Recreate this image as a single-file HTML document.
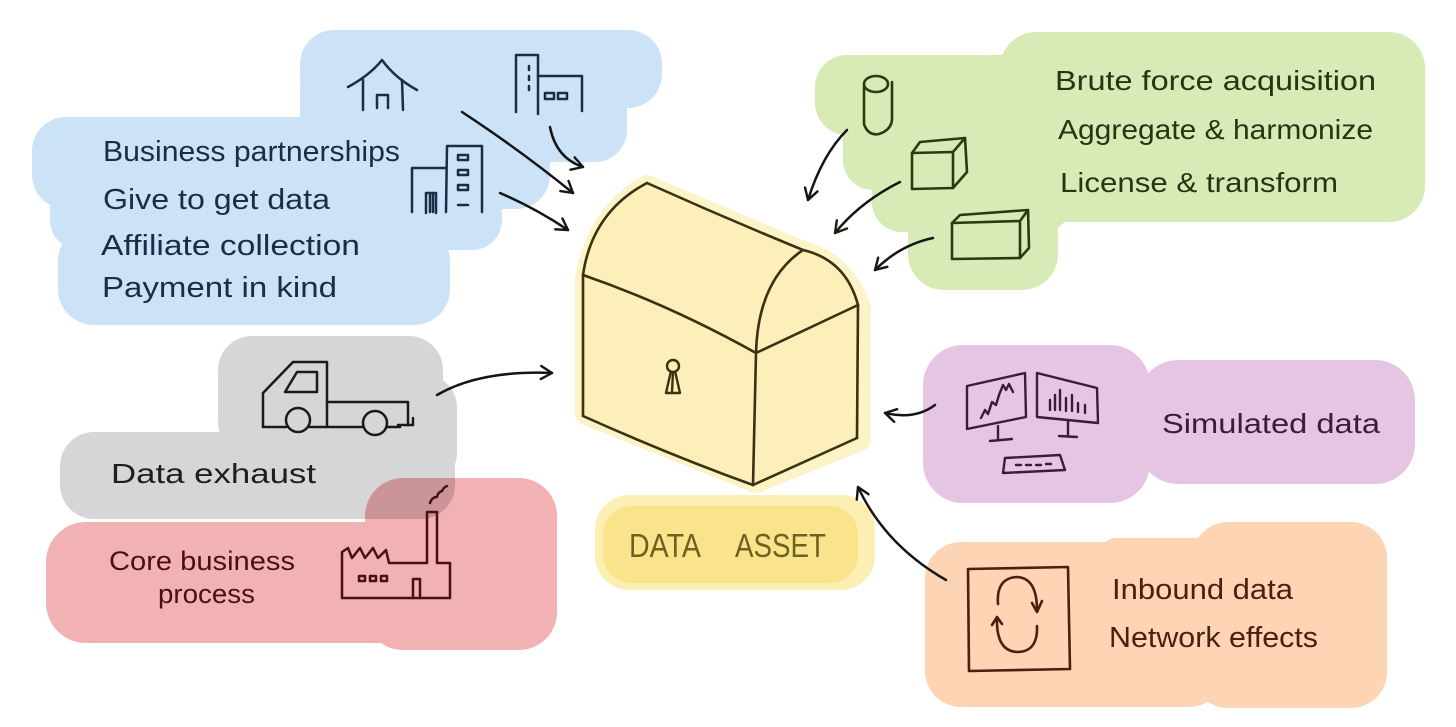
<!DOCTYPE html>
<html>
<head>
<meta charset="utf-8">
<style>
  html,body{margin:0;padding:0;background:#fff;}
  svg{display:block;}
  text{font-family:"Liberation Sans", "DejaVu Sans", sans-serif;}
</style>
</head>
<body>
<svg width="1456" height="727" viewBox="0 0 1456 727" xmlns="http://www.w3.org/2000/svg">
  <defs>
    <marker id="ah" viewBox="0 0 16 16" refX="13" refY="8" markerWidth="16" markerHeight="16" orient="auto" markerUnits="userSpaceOnUse">
      <path d="M2,1.5 L13,8 L2,14.5" fill="none" stroke="#151515" stroke-width="2.4" stroke-linecap="round" stroke-linejoin="round"/>
    </marker>
    <marker id="ahg" viewBox="0 0 16 16" refX="13" refY="8" markerWidth="16" markerHeight="16" orient="auto" markerUnits="userSpaceOnUse">
      <path d="M2,1.5 L13,8 L2,14.5" fill="none" stroke="#1a1f10" stroke-width="2.4" stroke-linecap="round" stroke-linejoin="round"/>
    </marker>
  </defs>
  <rect width="1456" height="727" fill="#ffffff"/>

  <!-- BLUE blob -->
  <g fill="#cbe2f7">
    <rect x="300" y="30" width="362" height="78" rx="34"/>
    <rect x="300" y="55" width="327" height="107" rx="32"/>
    <rect x="32" y="117" width="518" height="92" rx="34"/>
    <rect x="50" y="180" width="452" height="70" rx="30"/>
    <rect x="58" y="225" width="392" height="100" rx="36"/>
  </g>

  <!-- GREEN blob -->
  <g fill="#d8eab6">
    <rect x="1000" y="32" width="425" height="190" rx="36"/>
    <rect x="815" y="55" width="260" height="80" rx="32"/>
    <rect x="843" y="90" width="230" height="100" rx="30"/>
    <rect x="872" y="150" width="200" height="82" rx="30"/>
    <rect x="908" y="195" width="150" height="95" rx="36"/>
  </g>

  <!-- GRAY blob -->
  <g fill="#d6d6d6">
    <rect x="218" y="336" width="225" height="120" rx="34"/>
    <rect x="300" y="375" width="157" height="110" rx="32"/>
    <rect x="60" y="432" width="395" height="87" rx="34"/>
  </g>

  <!-- PINK blob -->
  <g fill="#f2b2b4" style="mix-blend-mode:multiply">
    <rect x="46" y="522" width="420" height="121" rx="40"/>
    <rect x="365" y="478" width="192" height="172" rx="38"/>
  </g>

  <!-- PURPLE blob -->
  <g fill="#e6c5e2">
    <rect x="923" y="345" width="227" height="158" rx="40"/>
    <rect x="1138" y="360" width="277" height="124" rx="40"/>
  </g>

  <!-- ORANGE blob -->
  <g fill="#fdd4b4">
    <rect x="925" y="542" width="300" height="165" rx="36"/>
    <rect x="1192" y="522" width="195" height="186" rx="36"/>
    <rect x="1100" y="538" width="150" height="40" rx="16"/>
  </g>

  <!-- CHEST halo -->
  <path d="M647,186 L803,252 Q845,264 860,308 L860,440 L756,482 L586,414 L586,278 Q598,214 647,186 Z"
        fill="#fdf3c8" stroke="#fdf3c8" stroke-width="22" stroke-linejoin="round"/>
  <!-- CHEST fill -->
  <path d="M647,183 L803,250 Q845,262 858,305 L857,438 L753,485 L583,416 L583,275 Q595,210 647,183 Z"
        fill="#fcefb9"/>
  <!-- CHEST lines -->
  <g fill="none" stroke="#3a3210" stroke-width="2.6" stroke-linecap="round" stroke-linejoin="round">
    <path d="M583,275 Q592,212 647,183"/>
    <path d="M647,183 Q725,218 803,250"/>
    <path d="M583,275 Q670,305 756,353"/>
    <path d="M756,353 Q758,280 803,250"/>
    <path d="M803,250 Q846,260 858,305"/>
    <path d="M858,305 L756,353"/>
    <path d="M583,275 L583,416"/>
    <path d="M583,416 Q670,455 753,485"/>
    <path d="M756,353 L753,485"/>
    <path d="M858,305 L857,438"/>
    <path d="M857,438 L753,485"/>
  </g>
  <!-- keyhole -->
  <g fill="none" stroke="#3a3210" stroke-width="2.4" stroke-linejoin="round">
    <circle cx="673" cy="366" r="6"/>
    <path d="M671,371 L666,393 L680,393 L675,371"/>
    <path d="M673,372 L672,392"/>
  </g>

  <!-- DATA ASSET -->
  <rect x="595" y="495" width="280" height="95" rx="34" fill="#fcefb3"/>
  <rect x="603" y="506" width="255" height="77" rx="28" fill="#f9e48c"/>
  <text x="629" y="557" font-size="33" fill="#6e6220" textLength="72" lengthAdjust="spacingAndGlyphs">DATA</text>
  <text x="735" y="557" font-size="33" fill="#6e6220" textLength="91" lengthAdjust="spacingAndGlyphs">ASSET</text>

  <!-- BLUE text -->
  <g fill="#1a2d48" font-size="29">
    <text x="103" y="161" textLength="297" lengthAdjust="spacingAndGlyphs">Business partnerships</text>
    <text x="103" y="209" textLength="227" lengthAdjust="spacingAndGlyphs">Give to get data</text>
    <text x="101" y="255" textLength="259" lengthAdjust="spacingAndGlyphs">Affiliate collection</text>
    <text x="102" y="297" textLength="235" lengthAdjust="spacingAndGlyphs">Payment in kind</text>
  </g>
  <!-- BLUE icons -->
  <g fill="none" stroke="#1a2d48" stroke-width="2.5" stroke-linecap="round" stroke-linejoin="round">
    <path d="M348,87 Q370,75 382,60 Q395,78 417,90"/>
    <path d="M363,80 L363,110 M402,80 L403,110"/>
    <path d="M377,108 L377,95 L388,95 L388,108"/>
    <path d="M516,112 L516,55 L538,55 L538,114"/>
    <path d="M538,76 L582,76 L582,111"/>
    <path d="M529,66 v4 M529,76 v4 M529,86 v4"/>
    <rect x="545" y="93" width="9" height="6"/>
    <rect x="558" y="93" width="9" height="6"/>
    <path d="M412,212 L412,168 L446,168"/>
    <path d="M446,212 L447,146 L482,146 L482,212"/>
    <rect x="458" y="155" width="10" height="5"/>
    <rect x="458" y="170" width="10" height="5"/>
    <rect x="458" y="185" width="10" height="5"/>
    <path d="M458,205 L468,205"/>
    <path d="M426,213 L426,193 L436,193 L436,213 M430,195 L430,212 M433,195 L433,212"/>
  </g>
  <!-- BLUE arrows -->
  <g fill="none" stroke="#151515" stroke-width="2.5" stroke-linecap="round">
    <path d="M462,112 Q520,150 573,193" marker-end="url(#ah)"/>
    <path d="M550,127 Q556,158 583,167" marker-end="url(#ah)"/>
    <path d="M500,193 Q535,208 568,230" marker-end="url(#ah)"/>
  </g>

  <!-- GREEN text -->
  <g fill="#263512" font-size="28">
    <text x="1055" y="90" textLength="321" lengthAdjust="spacingAndGlyphs">Brute force acquisition</text>
    <text x="1058" y="139" textLength="315" lengthAdjust="spacingAndGlyphs">Aggregate &amp; harmonize</text>
    <text x="1060" y="192" textLength="278" lengthAdjust="spacingAndGlyphs">License &amp; transform</text>
  </g>
  <!-- GREEN icons -->
  <g fill="none" stroke="#2a3a10" stroke-width="2.6" stroke-linecap="round" stroke-linejoin="round">
    <ellipse cx="876" cy="84" rx="12" ry="8"/>
    <path d="M864,86 L864,124 Q868,136 879,134 Q891,130 892,120 L892,82"/>
    <path d="M912,153 L953,152 L953,188 L912,189 Z"/>
    <path d="M912,153 L920,142 L965,138 L953,152"/>
    <path d="M965,138 L967,172 L953,188"/>
    <path d="M952,223 L1020,221 L1020,258 L952,259 Z"/>
    <path d="M952,223 L960,215 L1028,210 L1020,221"/>
    <path d="M1028,210 L1029,248 L1020,258"/>
  </g>
  <!-- GREEN arrows -->
  <g fill="none" stroke="#151515" stroke-width="2.5" stroke-linecap="round">
    <path d="M847,130 Q822,155 808,200" marker-end="url(#ah)"/>
    <path d="M900,182 Q860,202 835,233" marker-end="url(#ahg)"/>
    <path d="M933,238 Q900,245 875,270" marker-end="url(#ah)"/>
  </g>

  <!-- GRAY text + truck -->
  <text x="111" y="483" font-size="28" fill="#1e1e1e" textLength="205" lengthAdjust="spacingAndGlyphs">Data exhaust</text>
  <g fill="none" stroke="#1a1a1a" stroke-width="2.5" stroke-linecap="round" stroke-linejoin="round">
    <path d="M263,427 L263,393 L293,362 L327,362 L327,427"/>
    <path d="M285,392 L317,392 L317,372 L297,372 Z"/>
    <path d="M327,402 L408,402 L408,425"/>
    <path d="M263,427 L286,427 M310,427 L363,427 M387,427 L400,427"/>
    <path d="M398,425 L413,425 L413,418"/>
    <circle cx="298" cy="420" r="12"/>
    <circle cx="375" cy="423" r="12"/>
  </g>
  <path d="M437,395 Q480,370 552,373" fill="none" stroke="#151515" stroke-width="2.5" stroke-linecap="round" marker-end="url(#ah)"/>

  <!-- PINK text + factory -->
  <g fill="#4a0f14" font-size="27">
    <text x="109" y="570" textLength="186" lengthAdjust="spacingAndGlyphs">Core business</text>
    <text x="158" y="603" textLength="97" lengthAdjust="spacingAndGlyphs">process</text>
  </g>
  <g fill="none" stroke="#4a0f14" stroke-width="2.5" stroke-linecap="round" stroke-linejoin="round">
    <path d="M342,598 L342,552 L348,548 L352,558 L360,548 L365,558 L373,548 L378,558 L386,550 L389,563 L427,563 L427,512 L437,512 L437,563 L450,563 L450,598 Z"/>
    <rect x="359" y="576" width="6" height="5"/>
    <rect x="370" y="576" width="6" height="5"/>
    <rect x="381" y="576" width="6" height="5"/>
    <path d="M413,598 L413,579 L420,579 L420,598"/>
    <path d="M430,503 Q432,497 437,497 Q438,492 442,491 Q444,487 447,486"/>
  </g>

  <!-- PURPLE text + monitors -->
  <text x="1162" y="433" font-size="28" fill="#3d1a3b" textLength="218" lengthAdjust="spacingAndGlyphs">Simulated data</text>
  <g fill="none" stroke="#3d1a3b" stroke-width="2.4" stroke-linecap="round" stroke-linejoin="round">
    <path d="M967,386 L1025,373 L1026,417 L967,429 Z"/>
    <path d="M998,426 L998,440 M990,441 L1012,439"/>
    <path d="M1037,373 L1097,388 L1098,423 L1037,417 Z"/>
    <path d="M1068,420 L1068,435 M1059,436 L1077,437"/>
    <path d="M1005,458 L1060,455 L1065,470 L1003,473 Z"/>
    <path d="M1016,465 h5 M1026,465 h5 M1036,465 h5 M1046,464 h5"/>
    <path d="M981,418 L985,410 L988,414 L992,402 L996,405 L999,395 L1003,385 L1006,390 L1009,384 L1013,392"/>
    <path d="M1050,400 v10 M1055,395 v15 M1060,390 v20 M1066,398 v13 M1072,395 v16 M1078,403 v9 M1085,405 v8"/>
  </g>
  <path d="M935,405 Q915,420 885,413" fill="none" stroke="#151515" stroke-width="2.5" stroke-linecap="round" marker-end="url(#ah)"/>

  <!-- ORANGE text + icon -->
  <g fill="#4a200e" font-size="29">
    <text x="1112" y="599" textLength="181" lengthAdjust="spacingAndGlyphs">Inbound data</text>
    <text x="1109" y="647" textLength="209" lengthAdjust="spacingAndGlyphs">Network effects</text>
  </g>
  <g fill="none" stroke="#4a200e" stroke-width="2.6" stroke-linecap="round" stroke-linejoin="round">
    <path d="M968,569 L1068,567 L1070,669 L969,671 Z"/>
    <path d="M998,604 Q996,578 1017,577 Q1037,578 1037,610"/>
    <path d="M1032,603 L1037,612 L1042,601"/>
    <path d="M1037,626 Q1038,652 1017,652 Q996,651 997,618"/>
    <path d="M992,625 L997,617 L1002,624"/>
  </g>
  <path d="M946,580 Q885,545 858,487" fill="none" stroke="#151515" stroke-width="2.5" stroke-linecap="round" marker-end="url(#ah)"/>
</svg>
</body>
</html>
